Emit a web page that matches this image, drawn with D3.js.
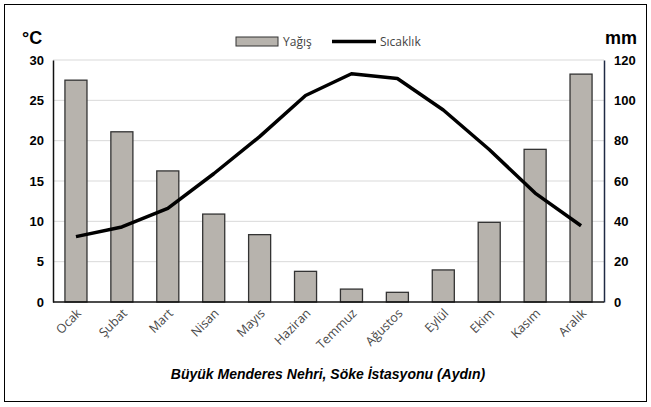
<!DOCTYPE html>
<html><head><meta charset="utf-8">
<script src="https://cdn.jsdelivr.net/npm/d3@7"></script>
<style>body{margin:0;background:#fff}svg{display:block}</style>
</head><body>
<svg id="c" width="651" height="407"></svg>
<script>
const months = ["Ocak","Şubat","Mart","Nisan","Mayıs","Haziran","Temmuz","Ağustos","Eylül","Ekim","Kasım","Aralık"];
const precip = [110, 84.4, 65, 43.6, 33.4, 15.2, 6.4, 4.8, 15.9, 39.5, 75.7, 113];
const temp = [8.1, 9.3, 11.6, 15.9, 20.5, 25.6, 28.3, 27.7, 23.8, 18.9, 13.5, 9.45];
const leftTicks = [0,5,10,15,20,25,30];
const rightTicks = [0,20,40,60,80,100,120];

const svg = d3.select("#c");
const L = 53, R = 604, T = 60, B = 302;
svg.append("rect").attr("x",4.5).attr("y",4.5).attr("width",642).attr("height",397)
  .attr("fill","none").attr("stroke","#000").attr("stroke-width",1);

const x = d3.scaleBand().domain(months).range([L,R]).paddingInner(0.52).paddingOuter(0.26);
const yT = d3.scaleLinear().domain([0,30]).range([B,T]);
const yP = d3.scaleLinear().domain([0,120]).range([B,T]);

// grid
svg.append("g").selectAll("line").data(leftTicks.slice(1)).join("line")
  .attr("x1",L).attr("x2",R).attr("y1",d=>yT(d)).attr("y2",d=>yT(d))
  .attr("stroke","#d9d9d9").attr("stroke-width",1);

// bars
svg.append("g").selectAll("rect").data(months).join("rect")
  .attr("x",d=>x(d)).attr("width",x.bandwidth())
  .attr("y",(d,i)=>yP(precip[i])).attr("height",(d,i)=>B-yP(precip[i]))
  .attr("fill","#b7b3ad").attr("stroke","#333").attr("stroke-width",1.3);

// line
const line = d3.line().x((d,i)=>x(months[i])+x.bandwidth()/2).y(d=>yT(d)).curve(d3.curveLinear);
svg.append("path").datum(temp).attr("d",line).attr("fill","none")
  .attr("stroke","#000").attr("stroke-width",3.5).attr("stroke-linejoin","round");

// axes
const la = svg.append("g").attr("transform",`translate(${L},0)`)
  .call(d3.axisLeft(yT).tickValues(leftTicks).tickSize(0).tickPadding(9));
la.select(".domain").attr("stroke","#111").attr("stroke-width",1.5);
la.selectAll("text").attr("font-family","Arial, Liberation Sans").attr("font-weight","bold").attr("font-size",13).attr("fill","#000");
const ra = svg.append("g").attr("transform",`translate(${R},0)`)
  .call(d3.axisRight(yP).tickValues(rightTicks).tickSize(0).tickPadding(10));
ra.select(".domain").attr("stroke","#1f2a44").attr("stroke-width",1.5);
ra.selectAll("text").attr("font-family","Arial, Liberation Sans").attr("font-weight","bold").attr("font-size",13).attr("fill","#000");
svg.append("line").attr("x1",L).attr("x2",R).attr("y1",B).attr("y2",B).attr("stroke","#111").attr("stroke-width",1.5);

// x labels
svg.append("g").selectAll("text").data(months).join("text")
  .attr("transform",d=>`translate(${x(d)+x.bandwidth()/2+6},${B+12}) rotate(-45)`)
  .attr("text-anchor","end").attr("font-family","Open Sans, sans-serif").attr("font-size",12.5)
  .attr("fill","#4a4a4a").text(d=>d);

// unit labels
svg.append("text").attr("x",22).attr("y",44).attr("font-family","Arial, Liberation Sans").attr("font-weight","bold").attr("font-size",18).text("°C");
svg.append("text").attr("x",605).attr("y",44).attr("font-family","Arial, Liberation Sans").attr("font-weight","bold").attr("font-size",18).text("mm");

// legend
svg.append("rect").attr("x",236).attr("y",37).attr("width",42).attr("height",9).attr("fill","#b7b3ad").attr("stroke","#333").attr("stroke-width",1);
svg.append("text").attr("x",283).attr("y",46).attr("font-family","Open Sans, sans-serif").attr("font-size",12).attr("fill","#444").text("Yağış");
svg.append("line").attr("x1",332).attr("x2",376).attr("y1",41.5).attr("y2",41.5).attr("stroke","#000").attr("stroke-width",3.5);
svg.append("text").attr("x",380).attr("y",46).attr("font-family","Open Sans, sans-serif").attr("font-size",12).attr("fill","#444").text("Sıcaklık");

// title
svg.append("text").attr("x",328).attr("y",379).attr("text-anchor","middle")
  .attr("font-family","Arial, Liberation Sans").attr("font-weight","bold").attr("font-style","italic").attr("font-size",14)
  .text("Büyük Menderes Nehri, Söke İstasyonu (Aydın)");
</script>
</body></html>
